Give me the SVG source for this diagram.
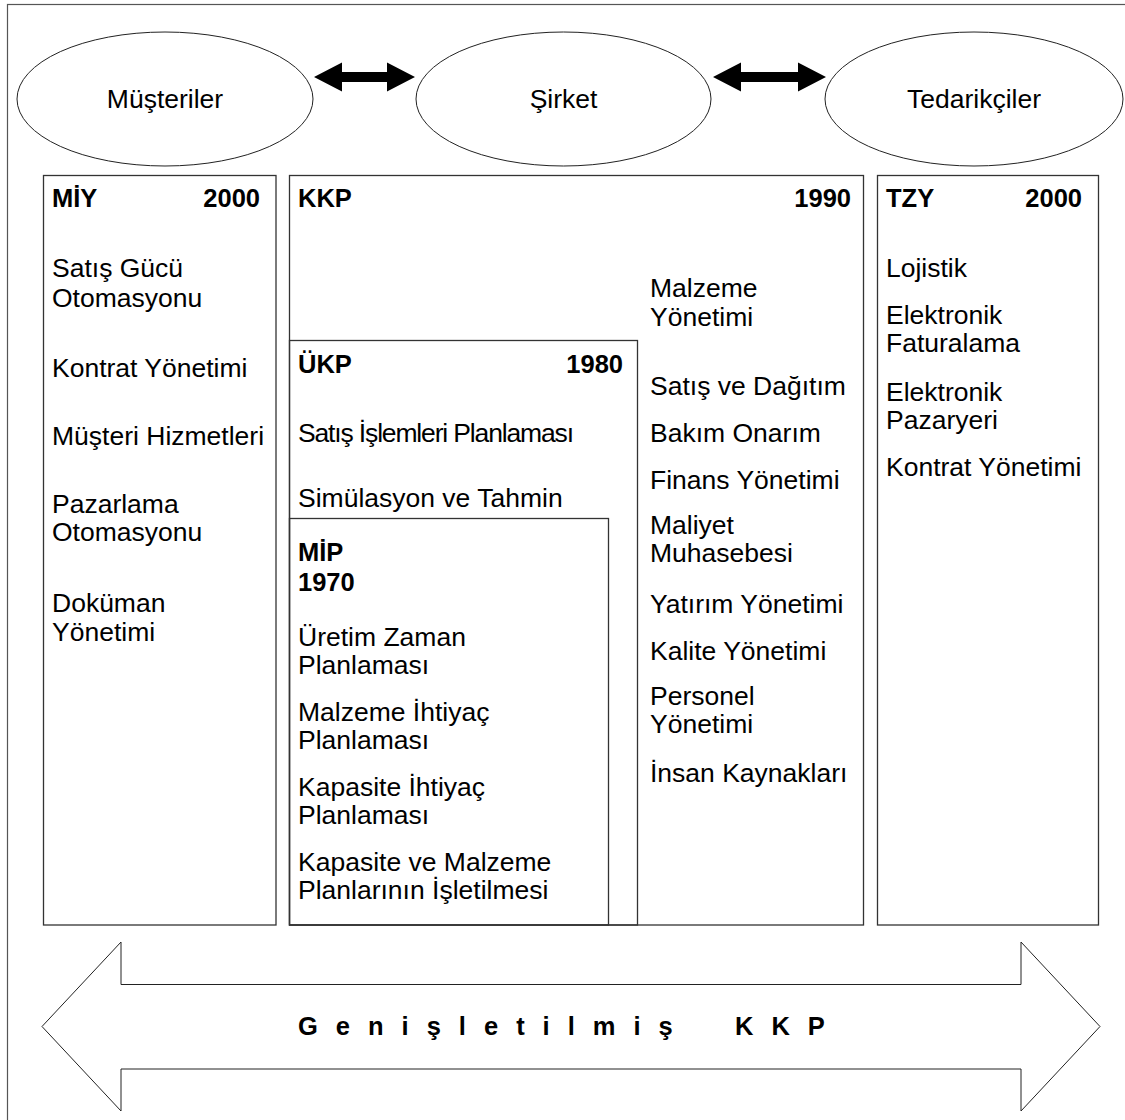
<svg xmlns="http://www.w3.org/2000/svg" width="1125" height="1120" viewBox="0 0 1125 1120">
  <style>
    .t { font-family: "Liberation Sans", Arial, sans-serif; font-size: 26.5px; fill: #000; }
    .h { font-family: "Liberation Sans", Arial, sans-serif; font-size: 25.5px; font-weight: bold; fill: #000; }
    .e { text-anchor: end; }
    .m { text-anchor: middle; }
    .box { fill: none; stroke: #333; stroke-width: 1.3; }
    .oval { fill: #fff; stroke: #222; stroke-width: 1; }
    .frame { fill: #fff; stroke: #555; stroke-width: 1.2; }
    .dbl { fill: #000; stroke: none; }
    .big { fill: #fff; stroke: #222; stroke-width: 1; }
  </style>

  <!-- outer frame -->
  <rect class="frame" x="7.5" y="4.5" width="1130" height="1130"/>

  <!-- parties -->
  <g id="musteriler">
    <ellipse class="oval" cx="165" cy="99" rx="148" ry="67"/>
    <text class="t m" x="165" y="108">Müşteriler</text>
  </g>
  <g id="sirket">
    <ellipse class="oval" cx="563.5" cy="99" rx="147.5" ry="67"/>
    <text class="t m" x="563.5" y="108">Şirket</text>
  </g>
  <g id="tedarikciler">
    <ellipse class="oval" cx="974" cy="99" rx="149" ry="67"/>
    <text class="t m" x="974" y="108">Tedarikçiler</text>
  </g>

  <!-- two-way links between the parties -->
  <g id="connectors">
    <path class="dbl" d="M314,77 L342,62.5 L342,72 L387,72 L387,62.5 L415,77 L387,91.5 L387,82 L342,82 L342,91.5 Z"/>
    <path class="dbl" d="M713,77 L741,62.5 L741,72 L798,72 L798,62.5 L826,77 L798,91.5 L798,82 L741,82 L741,91.5 Z"/>
  </g>

  <!-- CRM -->
  <g id="miy">
    <rect class="box" x="43.5" y="175.5" width="232.5" height="749.5"/>
    <text class="h" x="52" y="207">MİY</text>
    <text class="h e" x="260" y="207">2000</text>
    <text class="t" x="52" y="277">Satış Gücü</text>
    <text class="t" x="52" y="307">Otomasyonu</text>
    <text class="t" x="52" y="377">Kontrat Yönetimi</text>
    <text class="t" x="52" y="445">Müşteri Hizmetleri</text>
    <text class="t" x="52" y="513">Pazarlama</text>
    <text class="t" x="52" y="541">Otomasyonu</text>
    <text class="t" x="52" y="612">Doküman</text>
    <text class="t" x="52" y="641">Yönetimi</text>
  </g>

  <!-- ERP -->
  <g id="kkp">
    <rect class="box" x="289.5" y="175.5" width="574" height="749.5"/>
    <text class="h" x="298" y="207">KKP</text>
    <text class="h e" x="851" y="207">1990</text>
    <text class="t" x="650" y="297">Malzeme</text>
    <text class="t" x="650" y="326">Yönetimi</text>
    <text class="t" x="650" y="395">Satış ve Dağıtım</text>
    <text class="t" x="650" y="442">Bakım Onarım</text>
    <text class="t" x="650" y="489">Finans Yönetimi</text>
    <text class="t" x="650" y="534">Maliyet</text>
    <text class="t" x="650" y="562">Muhasebesi</text>
    <text class="t" x="650" y="613">Yatırım Yönetimi</text>
    <text class="t" x="650" y="660">Kalite Yönetimi</text>
    <text class="t" x="650" y="705">Personel</text>
    <text class="t" x="650" y="733">Yönetimi</text>
    <text class="t" x="650" y="782">İnsan Kaynakları</text>
  </g>

  <!-- MRP II -->
  <g id="ukp">
    <rect class="box" x="289.5" y="340.5" width="348" height="584.5"/>
    <text class="h" x="298" y="373">ÜKP</text>
    <text class="h e" x="623" y="373">1980</text>
    <text class="t" x="298" y="442" textLength="276">Satış İşlemleri Planlaması</text>
    <text class="t" x="298" y="507">Simülasyon ve Tahmin</text>
  </g>

  <!-- MRP -->
  <g id="mip">
    <rect class="box" x="289.5" y="518.5" width="319" height="406.5"/>
    <text class="h" x="298" y="561">MİP</text>
    <text class="h" x="298" y="591">1970</text>
    <text class="t" x="298" y="646">Üretim Zaman</text>
    <text class="t" x="298" y="674">Planlaması</text>
    <text class="t" x="298" y="721">Malzeme İhtiyaç</text>
    <text class="t" x="298" y="749">Planlaması</text>
    <text class="t" x="298" y="796">Kapasite İhtiyaç</text>
    <text class="t" x="298" y="824">Planlaması</text>
    <text class="t" x="298" y="871">Kapasite ve Malzeme</text>
    <text class="t" x="298" y="899">Planlarının İşletilmesi</text>
  </g>

  <!-- SCM -->
  <g id="tzy">
    <rect class="box" x="877.5" y="175.5" width="221" height="749.5"/>
    <text class="h" x="886" y="207">TZY</text>
    <text class="h e" x="1082" y="207">2000</text>
    <text class="t" x="886" y="277">Lojistik</text>
    <text class="t" x="886" y="324">Elektronik</text>
    <text class="t" x="886" y="352">Faturalama</text>
    <text class="t" x="886" y="401">Elektronik</text>
    <text class="t" x="886" y="429">Pazaryeri</text>
    <text class="t" x="886" y="476">Kontrat Yönetimi</text>
  </g>

  <!-- extended ERP band -->
  <g id="genisletilmis-kkp">
    <path class="big" d="M42,1026.5 L121,942 L121,984.5 L1021,984.5 L1021,942 L1100,1026.5 L1021,1111 L1021,1069 L121,1069 L121,1111 Z"/>
    <text class="h" x="298" y="1035" font-size="24" letter-spacing="18">Genişletilmiş<tspan x="735">KKP</tspan></text>
  </g>
</svg>
